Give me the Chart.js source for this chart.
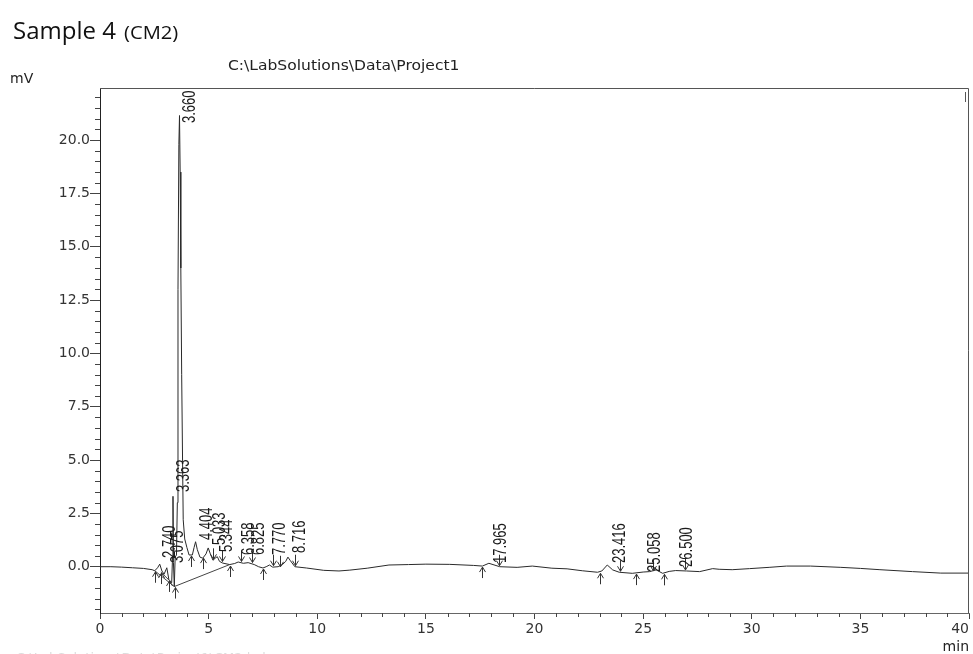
<!DOCTYPE html>
<html><head><meta charset="utf-8">
<script src="https://cdn.jsdelivr.net/npm/chart.js@4.4.0/dist/chart.umd.min.js"></script>
<style>html,body{margin:0;padding:0;background:#fff;}canvas{display:block;}</style>
</head><body>
<canvas id="c" width="973" height="654"></canvas>
<script>
// ---- data ----
const timeMin = [0.00,0.50,1.00,1.50,2.00,2.40,2.52,2.65,2.75,2.85,2.95,3.075,3.17,3.30,3.34,3.36,3.38,3.42,3.46,3.52,3.56,3.59,3.63,3.66,3.69,3.72,3.76,3.80,3.83,3.90,4.00,4.10,4.25,4.33,4.40,4.48,4.60,4.73,4.88,4.98,5.08,5.20,5.30,5.40,5.50,5.65,5.97,6.20,6.36,6.60,6.82,7.10,7.30,7.50,7.65,7.80,7.95,8.20,8.40,8.55,8.65,8.75,8.97,9.50,10.3,11.0,11.5,12.3,13.3,14.2,15.0,16.1,17.2,17.6,17.9,18.4,19.2,19.9,20.8,21.5,22.2,22.9,23.1,23.35,23.6,23.9,24.5,25.0,25.3,25.6,25.9,26.2,26.5,27.0,27.6,28.2,28.5,29.1,29.9,30.8,31.6,32.7,34.1,35.0,35.9,37.4,38.7,40.0];
const signalMv = [0.00,0.00,-0.02,-0.05,-0.08,-0.14,-0.19,-0.05,0.12,-0.20,-0.35,-0.05,-0.60,-0.75,0.50,3.30,0.20,-0.93,0.45,0.55,3.0,13.0,19.8,21.15,18.5,14.0,9.0,5.0,2.2,1.3,0.90,0.55,0.55,0.90,1.17,0.80,0.45,0.40,0.60,0.88,0.60,0.30,0.40,0.47,0.25,0.17,0.10,0.15,0.22,0.16,0.19,0.10,0.00,-0.06,0.00,0.08,-0.02,0.00,0.10,0.25,0.45,0.30,0.00,-0.06,-0.17,-0.20,-0.16,-0.07,0.08,0.10,0.12,0.11,0.06,0.03,0.16,0.00,-0.03,0.03,-0.07,-0.10,-0.19,-0.26,-0.20,0.08,-0.15,-0.26,-0.31,-0.25,-0.23,-0.15,-0.31,-0.22,-0.18,-0.20,-0.23,-0.09,-0.12,-0.14,-0.09,-0.03,0.03,0.03,-0.03,-0.08,-0.14,-0.23,-0.30,-0.30];

const peakTimes   = [2.740,3.075,3.363,3.660,4.404,5.033,5.344,6.358,6.825,7.770,8.716,17.965,23.416,25.058,26.500];
const peakLabelMv = [0.41,0.17,3.50,20.8,1.25,1.02,0.69,0.55,0.55,0.55,0.64,0.17,0.17,-0.25,-0.01];

const markerTimes = [2.52,2.80,3.17,3.44,4.20,4.73,5.20,5.60,5.97,6.50,7.00,7.50,7.95,8.27,8.97,17.60,18.38,23.00,23.94,24.68,25.45,25.97,26.93];
const markerMv    = [-0.19,-0.25,-0.62,-0.93,0.55,0.45,0.30,0.20,0.08,0.20,0.15,-0.06,0.00,-0.05,0.00,0.03,0.00,-0.26,-0.26,-0.30,-0.25,-0.31,-0.20];
const markerDir   = ['up','up','up','up','up','up','down','down','up','down','down','up','down','down','down','up','down','up','down','up','down','up','down'];

const baselineT = [2.52,3.42,5.97,null,2.80,3.17];
const baselineV = [-0.19,-0.93,0.10,null,-0.25,-0.62];

const xMajorTicks = [0,5,10,15,20,25,30,35,40];
const yMajorTicks = [0,2.5,5,7.5,10,12.5,15,17.5,20];

const titleText = 'C:\\LabSolutions\\Data\\Project1';
const sampleText = 'Sample 4';
const sampleSub = '(CM2)';
const yUnit = 'mV';
const xUnit = 'min';
const footerText = 'C:\\LabSolutions\\Data\\Project1\\CM2.lcd';

// ---- drawing ----
function stretchText(ctx, text, x, y, sx) {
  ctx.save(); ctx.translate(x, y); ctx.scale(sx, 1); ctx.fillText(text, 0, 0); ctx.restore();
}
const decor = {
  id: 'decor',
  afterDraw(chart) {
    const ctx = chart.ctx, ca = chart.chartArea;
    const xs = chart.scales.x, ys = chart.scales.y;
    ctx.save();
    // frame
    ctx.strokeStyle = '#555'; ctx.lineWidth = 1;
    ctx.beginPath();
    ctx.moveTo(ca.left, ca.top + 0.5); ctx.lineTo(ca.right - 0.5, ca.top + 0.5); ctx.lineTo(ca.right - 0.5, ca.bottom);
    ctx.stroke();
    ctx.beginPath(); ctx.moveTo(ca.right - 3.5, ca.top + 4); ctx.lineTo(ca.right - 3.5, ca.top + 14); ctx.stroke();
    // minor ticks
    ctx.strokeStyle = '#444';
    ctx.beginPath();
    for (let v = -2; v <= 22.001; v += 0.5) {
      if (Math.abs(v / 2.5 - Math.round(v / 2.5)) < 1e-6) continue;
      const py = Math.round(ys.getPixelForValue(v)) + 0.5;
      ctx.moveTo(ca.left - 5, py); ctx.lineTo(ca.left, py);
    }
    for (let t = 1; t < 40; t++) {
      if (t % 5 === 0) continue;
      const px = Math.round(xs.getPixelForValue(t)) + 0.5;
      ctx.moveTo(px, ca.bottom); ctx.lineTo(px, ca.bottom + 4);
    }
    ctx.stroke();
    // markers
    ctx.strokeStyle = '#333';
    markerTimes.forEach((t, i) => {
      const px = Math.round(xs.getPixelForValue(t)) + 0.5;
      const py = ys.getPixelForValue(markerMv[i]);
      const s = markerDir[i] === 'up' ? 1 : -1;
      ctx.beginPath();
      ctx.moveTo(px, py + s * 1); ctx.lineTo(px, py + s * 12);
      ctx.moveTo(px - 3, py + s * 6); ctx.lineTo(px, py + s * 1); ctx.lineTo(px + 3, py + s * 6);
      ctx.stroke();
    });
    // peak labels
    ctx.fillStyle = '#1a1a1a';
    ctx.font = '13px "Liberation Sans", Arial, sans-serif';
    ctx.textAlign = 'left'; ctx.textBaseline = 'middle';
    peakTimes.forEach((t, i) => {
      const px = xs.getPixelForValue(t) + 11;
      const py = ys.getPixelForValue(peakLabelMv[i]);
      ctx.save();
      ctx.translate(px, py); ctx.rotate(-Math.PI / 2); ctx.scale(1, 1.35);
      ctx.fillText(t.toFixed(3), 0, 0);
      ctx.restore();
    });
    // texts
    ctx.textBaseline = 'alphabetic';
    ctx.fillStyle = '#111';
    ctx.font = '24px "Open Sans", sans-serif';
    ctx.fillText(sampleText, 13, 39);
    ctx.font = '18px "Open Sans", sans-serif';
    stretchText(ctx, sampleSub, 124, 39, 1.12);
    ctx.fillStyle = '#222';
    ctx.font = '14px "DejaVu Sans", sans-serif';
    stretchText(ctx, titleText, 228, 70, 1.11);
    ctx.fillText(yUnit, 10, 83);
    ctx.fillStyle = '#ddd';
    ctx.font = '13px "DejaVu Sans", sans-serif';
    ctx.fillText(footerText, 16, 662);
    ctx.fillStyle = '#222';
    ctx.font = '14px "DejaVu Sans", sans-serif';
    ctx.textAlign = 'right';
    ctx.fillText(xUnit, ca.right, 651);
    ctx.fillStyle = '#333';
    ctx.textBaseline = 'middle';
    ctx.fillText('40', ca.right, 629.5);
    ctx.restore();
  }
};

new Chart(document.getElementById('c'), {
  type: 'scatter',
  data: {
    datasets: [
      { data: timeMin.map((t, i) => ({ x: t, y: signalMv[i] })), showLine: true, borderColor: '#2a2a2a', borderWidth: 1, pointRadius: 0, tension: 0 },
      { data: baselineT.map((t, i) => ({ x: t, y: baselineV[i] })), showLine: true, borderColor: '#444', borderWidth: 1, pointRadius: 0, spanGaps: false }
    ]
  },
  options: {
    responsive: false, animation: false, devicePixelRatio: 1,
    layout: { padding: { top: 88, right: 4, left: 0, bottom: 0 } },
    plugins: { legend: { display: false }, tooltip: { enabled: false } },
    scales: {
      x: {
        type: 'linear', min: 0, max: 40,
        afterBuildTicks: s => { s.ticks = xMajorTicks.map(v => ({ value: v })); },
        afterFit: s => { s.height = 41; },
        ticks: { callback: v => v === 40 ? '' : String(v), font: { family: 'DejaVu Sans', size: 14 }, color: '#333', padding: 2, maxRotation: 0, autoSkip: false },
        grid: { drawOnChartArea: false, drawTicks: true, tickLength: 6, tickColor: '#444' },
        border: { display: true, color: '#666' }
      },
      y: {
        min: -2.17, max: 22.44,
        afterBuildTicks: s => { s.ticks = yMajorTicks.map(v => ({ value: v })); },
        afterFit: s => { s.width = 100; },
        ticks: { callback: v => Number(v).toFixed(1), font: { family: 'DejaVu Sans', size: 14 }, color: '#333', padding: 0, autoSkip: false },
        grid: { drawOnChartArea: false, drawTicks: true, tickLength: 10, tickColor: '#444' },
        border: { display: true, color: '#222' }
      }
    }
  },
  plugins: [decor]
});
</script>
</body></html>
